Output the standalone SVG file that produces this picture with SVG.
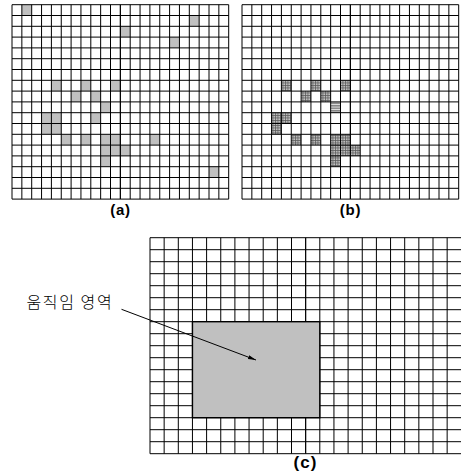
<svg xmlns="http://www.w3.org/2000/svg" xmlns:xlink="http://www.w3.org/1999/xlink" width="461" height="474" viewBox="0 0 461 474">
<style>
.cell{fill:#c0c0c0}
.hcell{fill:url(#hatch)}
.grid{fill:none;stroke:#000;stroke-width:1}
.mid{fill:none;stroke:#000;stroke-width:1.25}
.lbl{font-family:"Liberation Sans",Arial,sans-serif;font-weight:bold;text-anchor:middle;fill:#000}
.kr{font-family:"Noto Sans CJK KR","Noto Sans",sans-serif;font-size:16px;font-weight:300;fill:#000}
</style>
<defs>
<pattern id="hatch" patternUnits="userSpaceOnUse" width="2.5" height="2.5">
<rect width="2.5" height="2.5" fill="#c4c4c4"/>
<path d="M0 0.5H2.5M0.5 0V2.5" stroke="#5a5a5a" stroke-width="0.8"/>
</pattern>
<pattern id="stripe" patternUnits="userSpaceOnUse" width="2.5" height="2.5">
<rect width="2.5" height="2.5" fill="#e4e4e4"/>
<path d="M0 0.8H2.5" stroke="#404040" stroke-width="0.9"/>
</pattern>
<marker id="arr" markerUnits="userSpaceOnUse" markerWidth="9" markerHeight="5" refX="8" refY="2" orient="auto">
<path d="M0 0L8 2L0 4z" fill="#000"/>
</marker>
<g id="gridA">
<path class="grid" d="M12 4.7V199.1M21.85 4.7V199.1M31.7 4.7V199.1M41.55 4.7V199.1M51.4 4.7V199.1M61.25 4.7V199.1M71.1 4.7V199.1M80.95 4.7V199.1M90.8 4.7V199.1M100.65 4.7V199.1M110.5 4.7V199.1M130.2 4.7V199.1M140.05 4.7V199.1M149.9 4.7V199.1M159.75 4.7V199.1M169.6 4.7V199.1M179.45 4.7V199.1M189.3 4.7V199.1M199.15 4.7V199.1M209 4.7V199.1M218.85 4.7V199.1M228.7 4.7V199.1M12 4.7H228.7M12 15.5H228.7M12 26.3H228.7M12 37.1H228.7M12 47.9H228.7M12 58.7H228.7M12 69.5H228.7M12 80.3H228.7M12 91.1H228.7M12 101.9H228.7M12 112.7H228.7M12 123.5H228.7M12 134.3H228.7M12 145.1H228.7M12 155.9H228.7M12 166.7H228.7M12 177.5H228.7M12 188.3H228.7M12 199.1H228.7"/>
<path class="mid" d="M120.35 4.7V199.1"/>
</g>
</defs>

<g id="panel-a">
<g id="cells-a">
<rect class="cell" x="21.85" y="4.7" width="9.85" height="10.8"/>
<rect class="cell" x="189.3" y="15.5" width="9.85" height="10.8"/>
<rect class="cell" x="120.35" y="26.3" width="9.85" height="10.8"/>
<rect class="cell" x="169.6" y="37.1" width="9.85" height="10.8"/>
<rect class="cell" x="51.4" y="80.3" width="9.85" height="10.8"/>
<rect class="cell" x="80.95" y="80.3" width="9.85" height="10.8"/>
<rect class="cell" x="110.5" y="80.3" width="9.85" height="10.8"/>
<rect class="cell" x="71.1" y="91.1" width="9.85" height="10.8"/>
<rect class="cell" x="90.8" y="91.1" width="9.85" height="10.8"/>
<rect class="cell" x="100.65" y="101.9" width="9.85" height="10.8"/>
<rect class="cell" x="41.55" y="112.7" width="19.7" height="21.6"/>
<rect class="cell" x="90.8" y="112.7" width="9.85" height="10.8"/>
<rect class="cell" x="61.25" y="134.3" width="9.85" height="10.8"/>
<rect class="cell" x="80.95" y="134.3" width="9.85" height="10.8"/>
<rect class="cell" x="100.65" y="134.3" width="19.7" height="10.8"/>
<rect class="cell" x="149.9" y="134.3" width="9.85" height="10.8"/>
<rect class="cell" x="100.65" y="145.1" width="29.55" height="10.8"/>
<rect class="cell" x="100.65" y="155.9" width="9.85" height="10.8"/>
<rect class="cell" x="209" y="166.7" width="9.85" height="10.8"/>
</g>
<use xlink:href="#gridA" href="#gridA"/>
<text class="lbl" x="120.5" y="215" font-size="15" letter-spacing="0.8">(a)</text>
</g>

<g id="panel-b">
<g id="cells-b">
<rect class="hcell" x="281.4" y="80.3" width="9.85" height="10.8"/>
<rect class="hcell" x="310.95" y="80.3" width="9.85" height="10.8"/>
<rect class="hcell" x="340.5" y="80.3" width="9.85" height="10.8"/>
<rect class="hcell" x="301.1" y="91.1" width="9.85" height="10.8"/>
<rect class="hcell" x="320.8" y="91.1" width="9.85" height="10.8"/>
<rect fill="url(#stripe)" x="330.65" y="101.9" width="9.85" height="10.8"/>
<rect class="hcell" x="271.55" y="112.7" width="19.7" height="10.8"/>
<rect class="hcell" x="271.55" y="123.5" width="9.85" height="10.8"/>
<rect class="hcell" x="291.25" y="134.3" width="9.85" height="10.8"/>
<rect class="hcell" x="310.95" y="134.3" width="9.85" height="10.8"/>
<rect class="hcell" x="330.65" y="134.3" width="19.7" height="10.8"/>
<rect class="hcell" x="330.65" y="145.1" width="29.55" height="10.8"/>
<rect class="hcell" x="330.65" y="155.9" width="9.85" height="10.8"/>
</g>
<use xlink:href="#gridA" href="#gridA" x="230"/>
<text class="lbl" x="350.5" y="215" font-size="15" letter-spacing="0.8">(b)</text>
</g>

<g id="panel-c">
<path class="grid" d="M150 237.7V453.7M164.15 237.7V453.7M178.3 237.7V453.7M192.45 237.7V453.7M206.6 237.7V453.7M220.75 237.7V453.7M234.9 237.7V453.7M249.05 237.7V453.7M263.2 237.7V453.7M277.35 237.7V453.7M291.5 237.7V453.7M319.8 237.7V453.7M333.95 237.7V453.7M348.1 237.7V453.7M362.25 237.7V453.7M376.4 237.7V453.7M390.55 237.7V453.7M404.7 237.7V453.7M418.85 237.7V453.7M433 237.7V453.7M447.15 237.7V453.7M150 237.7H462M150 249.7H462M150 261.7H462M150 273.7H462M150 285.7H462M150 297.7H462M150 309.7H462M150 321.7H462M150 333.7H462M150 345.7H462M150 357.7H462M150 369.7H462M150 381.7H462M150 393.7H462M150 405.7H462M150 417.7H462M150 429.7H462M150 441.7H462M150 453.7H462"/>
<path class="mid" d="M305.65 237.7V453.7"/>
<rect id="motion-region" x="192.45" y="321.7" width="127.35" height="96" fill="#c0c0c0" stroke="#000" stroke-width="1.4"/>
<text class="lbl" x="305.5" y="467.5" font-size="17" letter-spacing="1">(c)</text>
</g>

<g id="label-motion">
<text class="kr" x="26.5" y="308" letter-spacing="1.6">움직임 영역</text>
</g>

<g id="connectors">
<path d="M121.5 309.3L256 360" fill="none" stroke="#000" stroke-width="1" marker-end="url(#arr)"/>
</g>
</svg>
